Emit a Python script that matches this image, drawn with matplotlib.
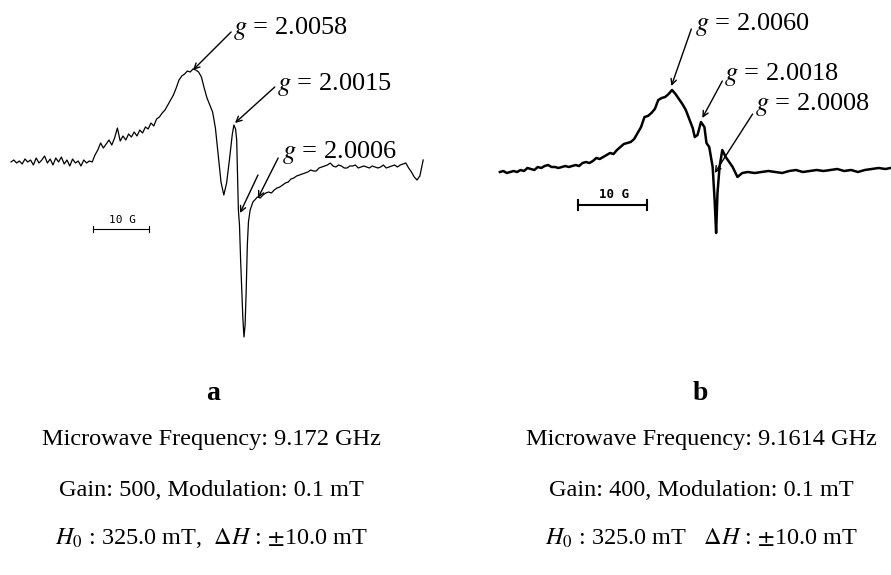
import matplotlib
matplotlib.use("Agg")
import matplotlib.pyplot as plt

plt.rcParams["font.family"] = ["Liberation Serif", "DejaVu Serif"]
plt.rcParams["mathtext.fontset"] = "stix"

# --- spectrum a: field (G, from start of sweep) and signal (arb. units)
field_a = [0, 0.5, 1, 1.5, 2, 2.5, 3, 3.5, 4, 4.5, 5, 5.5, 6, 6.5, 7, 7.5,
           8, 8.5, 9, 9.5, 10, 10.5, 11, 11.5, 12, 12.5, 13, 13.5, 14, 14.5,
           15, 15.5, 16, 16.5, 17, 17.5, 18, 18.5, 19, 19.5, 20, 20.5, 21,
           21.5, 22, 22.5, 23, 23.5, 24, 24.5, 25, 25.5, 26, 26.5, 27, 27.5,
           28, 28.5, 29, 29.5, 30, 30.5, 31, 31.5, 32, 32.5, 33, 33.5, 34,
           34.5, 35, 35.5, 36, 36.5, 37, 37.5, 38, 38.5, 39, 39.5, 39.8, 40.1,
           40.3, 40.45, 40.6, 40.8, 41.0, 41.2, 41.4, 41.6, 41.8, 42.0, 42.2,
           42.4, 42.7, 43.2, 44, 44.5, 45, 45.5, 46, 46.5, 47, 47.5, 48, 48.5,
           49, 49.5, 50, 50.5, 51, 51.5, 52, 52.5, 53, 53.5, 54, 54.5, 55,
           55.5, 56, 56.5, 57, 57.5, 58, 58.5, 59, 59.5, 60, 60.5, 61, 61.5,
           62, 62.5, 63, 63.5, 64, 64.5, 65, 65.5, 66, 66.5, 67, 67.5, 68,
           68.5, 69, 69.5, 70, 70.5, 71, 71.5, 72, 72.5, 73, 73.3, 73.6]
signal_a = [0, 2, -1, 1, -2, 3, 0, 2, -3, 4, -1, 2, 6, -1, 3, -3, 4, 0, 5,
            -2, 2, -4, 3, -1, 1, -4, 2, -1, 1, 0,
            7, 12, 19, 14, 18, 22, 17, 24, 34, 21, 26, 22, 28, 25, 30, 26,
            32, 29, 35, 33, 39, 36, 43, 45, 49, 52, 57, 62, 67, 74, 82, 86,
            88, 91, 90, 93, 92, 90, 85, 74, 64, 57, 50, 34, 7, -20, -33, -21,
            2, 27, 37, 33, 22, -13, -48, -63, -98, -128, -156, -175, -163,
            -128, -83, -60, -48, -40, -35, -36, -33, -31, -30, -31, -28, -26,
            -25, -23, -21, -20, -17, -16, -14, -13, -12, -11, -10, -8, -9,
            -9, -6, -5, -4, -3, -1, -4, -5, -3, -4, -6, -6, -4, -4, -3, -6,
            -5, -4, -5, -6, -4, -5, -6, -5, -3, -6, -5, -4, -3, -5, -3, -2,
            -1, -6, -10, -15, -18, -14, -6, 2]

# --- spectrum b
field_b = [0, 0.5, 1, 1.5, 2, 2.5, 3, 3.5, 4, 4.5, 5, 5.5, 6, 6.5, 7, 7.5,
           8, 8.5, 9, 9.5, 10, 10.5, 11, 11.5, 12, 12.5, 13, 13.5, 14, 14.5,
           15, 15.5, 16, 16.5, 17, 17.5, 18, 18.5, 19, 19.5, 20, 20.5, 21,
           21.5, 22, 22.5, 23, 23.5, 24, 24.5, 25, 25.5, 26, 26.5, 27, 27.5,
           28, 28.3, 28.7, 29.2, 29.7, 30.0, 30.4, 30.9, 31.2, 31.4, 31.6,
           31.9, 32.3, 32.8, 33.3, 33.8, 34.5, 35.2, 36, 37, 38, 39, 40, 41,
           42, 43, 44, 45, 46, 47, 48, 49, 50, 51, 52, 53, 54, 55, 56, 56.7]
signal_b = [0, 1, -1, 0, 1, 0, 2, 1, 4, 3, 2, 5, 4, 6, 7, 5, 5, 4, 5, 6, 5,
            6, 7, 6, 9, 10, 9, 11, 14, 13, 15, 17, 19, 18, 22, 25, 28, 29,
            30, 33, 39, 45, 55, 56, 59, 63, 72, 74, 75, 78, 82, 78, 73, 68,
            62, 53, 44, 35, 37, 50, 45, 29, 25, 5, -30, -61, -21, 5, 22, 15,
            10, 5, -5, -1, 0, -1, 0, 1, 0, -1, 1, 2, 0, 1, 2, 1, 2, 3, 1, 2,
            0, 2, 3, 4, 3, 4]

g_a = ["2.0058", "2.0015", "2.0006"]
g_b = ["2.0060", "2.0018", "2.0008"]

params_a = ["Microwave Frequency: 9.172 GHz",
            "Gain: 500, Modulation: 0.1 mT",
            r"$H_0$ : 325.0 mT,  $\Delta H$ : $\pm$10.0 mT"]
params_b = ["Microwave Frequency: 9.1614 GHz",
            "Gain: 400, Modulation: 0.1 mT",
            r"$H_0$ : 325.0 mT   $\Delta H$ : $\pm$10.0 mT"]

fig = plt.figure(figsize=(8.91, 5.75), dpi=100)

ax_a = fig.add_axes([0, 0.4, 440 / 891, 0.6])
ax_a.plot(field_a, signal_a, color="black", lw=0.9)
ax_a.set_xlim(-1.96, 76.6)
ax_a.set_ylim(-183, 162)

ax_b = fig.add_axes([440 / 891, 0.4, 451 / 891, 0.6])
ax_b.plot(field_b, signal_b, color="black", lw=1.8)
ax_b.set_xlim(-8.7, 56.8)
ax_b.set_ylim(-173, 172)

for ax in (ax_a, ax_b):
    ax.axis("off")

arrow = dict(arrowstyle="->", color="black", lw=1.0, shrinkA=0, shrinkB=0)
label_kw = dict(fontsize=19, va="center", ha="left")


def g_label(ax, g, text_xy, start_xy, tip_xy):
    ax.text(*text_xy, "$g$ = " + g, **label_kw)
    ax.annotate("", xy=tip_xy, xytext=start_xy, arrowprops=arrow)


g_label(ax_a, g_a[0], (39.6, 134), (39.3, 130), (32.5, 92))
g_label(ax_a, g_a[1], (47.5, 78), (47.1, 75), (40.0, 39))
g_label(ax_a, g_a[2], (48.4, 10), (47.7, 4), (44.1, -36))
ax_a.annotate("", xy=(40.9, -51), xytext=(44.1, -13), arrowprops=arrow)

g_label(ax_b, g_b[0], (28.3, 148), (27.8, 143), (24.9, 86))
g_label(ax_b, g_b[1], (32.6, 98), (32.3, 91), (29.4, 54))
g_label(ax_b, g_b[2], (37.0, 67), (36.7, 58), (31.2, -1))


def scale_bar(ax, x0, y, lw, tick, size, weight):
    ax.plot([x0, x0 + 10], [y, y], color="black", lw=lw)
    for xe in (x0, x0 + 10):
        ax.plot([xe, xe], [y - tick, y + tick], color="black", lw=lw)
    ax.text(x0 + 5.3, y + 4, "10 G", family="DejaVu Sans Mono",
            fontsize=size, fontweight=weight, ha="center", va="bottom")


scale_bar(ax_a, 14.6, -67, 0.8, 3, 8, "normal")
scale_bar(ax_b, 11.3, -33, 1.5, 5, 9, "bold")

fig.text(213 / 891, 1 - 393 / 575, "a", fontsize=20, fontweight="bold",
         ha="center", va="center")
fig.text(700 / 891, 1 - 393 / 575, "b", fontsize=20, fontweight="bold",
         ha="center", va="center")

rows_y = [440, 490, 538]
for line_a, line_b, py in zip(params_a, params_b, rows_y):
    fig.text(211 / 891, 1 - py / 575, line_a, fontsize=17.5, ha="center", va="center")
    fig.text(701 / 891, 1 - py / 575, line_b, fontsize=17.5, ha="center", va="center")

fig.savefig("out.png", dpi=100, facecolor="white")
